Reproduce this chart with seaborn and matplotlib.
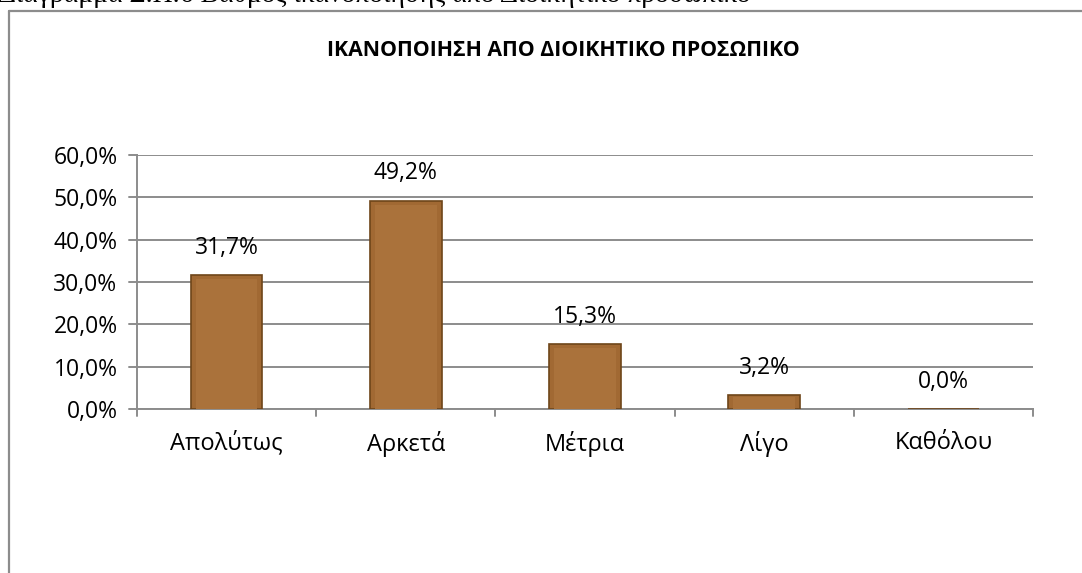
import matplotlib
matplotlib.use("Agg")
import matplotlib.pyplot as plt
from matplotlib.lines import Line2D
from matplotlib.patches import Rectangle
import seaborn as sns
import pandas as pd

categories = ["Απολύτως", "Αρκετά", "Μέτρια", "Λίγο", "Καθόλου"]
values = [31.7, 49.2, 15.3, 3.2, 0.0]
yticks = [0, 10, 20, 30, 40, 50, 60]
title = "ΙΚΑΝΟΠΟΙΗΣΗ ΑΠΟ ΔΙΟΙΚΗΤΙΚΟ ΠΡΟΣΩΠΙΚΟ"
caption = "Διάγραμμα Σ.Π.6 Βαθμός ικανοποίησης από Διοικητικό προσωπικό"

df = pd.DataFrame({"cat": categories, "val": values})

sns.set_theme(style="white")
plt.rcParams["font.family"] = ["Open Sans", "DejaVu Sans"]
plt.rcParams["text.color"] = "black"
plt.rcParams["xtick.color"] = "black"
plt.rcParams["ytick.color"] = "black"

fig = plt.figure(figsize=(10.82, 5.73), dpi=100)
ax = fig.add_axes([137 / 1082, 1 - 409 / 573, (1033 - 137) / 1082, (409 - 155) / 573])

grid_col = "#8c8c8c"

sns.barplot(data=df, x="cat", y="val", color="#A16933", saturation=1, width=0.4,
            edgecolor="#6E4519", linewidth=1.2, ax=ax, zorder=3)

# lighter inner face to hint at the bevelled bars
for p in ax.containers[0]:
    h = p.get_height()
    if h <= 0:
        continue
    dx = p.get_width() * 0.07
    dy = min(1.0, h * 0.15)
    ax.add_patch(Rectangle((p.get_x() + dx, p.get_y()), p.get_width() - 2 * dx, h - dy,
                           facecolor="#AA723B", edgecolor="none", zorder=4))

ax.set_ylim(0, 60)
ax.set_xlim(-0.5, len(categories) - 0.5)
ax.set_yticks(yticks)
ax.set_yticklabels([f"{t:.1f}%".replace(".", ",") for t in yticks], fontsize=16.5)
ax.yaxis.grid(True, color=grid_col, linewidth=1.4, zorder=0)
ax.set_xlabel("")
ax.set_ylabel("")
ax.set_xticks(range(len(categories)))
ax.set_xticklabels(categories, fontsize=17)
ax.tick_params(axis="x", length=0, pad=16)
ax.tick_params(axis="y", length=0, pad=14)

# boundary ticks on the x axis and outer ticks on the y axis
for b in [i + 0.5 for i in range(len(categories) - 1)] + [-0.5, len(categories) - 0.5]:
    ax.plot([b, b], [0, -1.6], color=grid_col, lw=1.4, clip_on=False)
for t in yticks:
    ax.plot([-0.5 - 0.045, -0.5], [t, t], color=grid_col, lw=1.4, clip_on=False)

for side in ["top", "right"]:
    ax.spines[side].set_visible(False)
for side in ["left", "bottom"]:
    ax.spines[side].set_color(grid_col)
    ax.spines[side].set_linewidth(1.4)

labels = [f"{v:.1f}%".replace(".", ",") for v in values]
ax.bar_label(ax.containers[0], labels=labels, padding=11, fontsize=16.5)

fig.text(563 / 1082, 1 - 50 / 573, title, ha="center", va="center",
         fontsize=15.3, fontweight="bold")

# partly cut caption above the chart frame
fig.text(-0.002, 1 - 1.5 / 573, caption, ha="left", va="baseline", fontsize=20,
         family=["Liberation Serif", "DejaVu Serif"])

# chart frame (left and top edges)
fig.add_artist(Line2D([9 / 1082, 9 / 1082], [0, 1 - 11 / 573], transform=fig.transFigure,
                      color=grid_col, lw=1.6))
fig.add_artist(Line2D([9 / 1082, 1], [1 - 11 / 573, 1 - 11 / 573], transform=fig.transFigure,
                      color=grid_col, lw=1.6))

fig.savefig("out.png", dpi=100)
